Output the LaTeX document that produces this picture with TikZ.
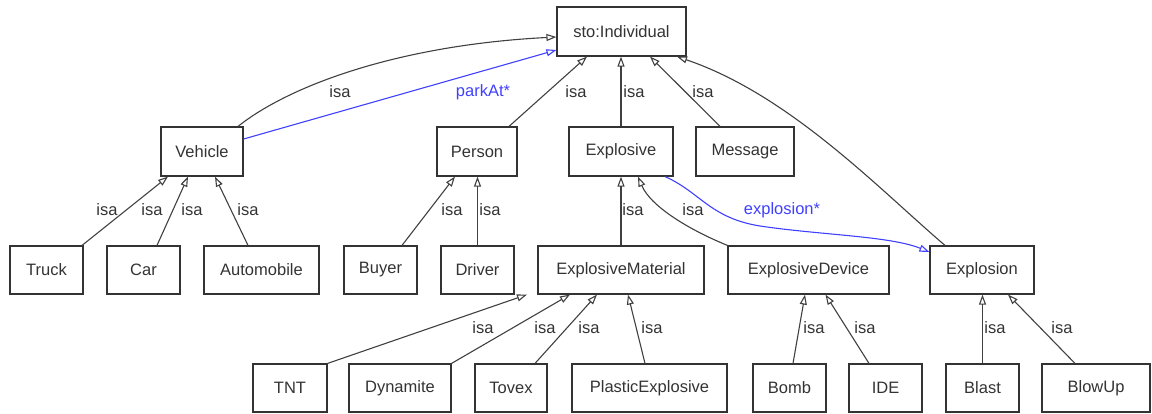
\documentclass[tikz,border=0pt]{standalone}
\usepackage{fontspec}
\setmainfont{Liberation Sans}
\usetikzlibrary{arrows.meta}
\definecolor{ink}{RGB}{51,51,51}
\definecolor{edgecol}{RGB}{64,64,64}
\definecolor{rel}{RGB}{64,64,255}
\begin{document}
\begin{tikzpicture}[x=1pt,y=-1pt,
  cls/.style={draw=ink, line width=1.2pt, minimum height=48pt, inner sep=0pt,
    text=ink, font=\fontsize{16.5}{19}\selectfont},
  lbl/.style={text=ink, inner sep=0pt, font=\fontsize{16.5}{19}\selectfont},
  rlbl/.style={text=rel, inner sep=0pt, font=\fontsize{16.5}{19}\selectfont},
  isa/.style={draw=edgecol, line width=1.1pt,
    -{Triangle[open, length=10pt, width=7pt]}},
  prop/.style={draw=rel, line width=1.1pt,
    -{Triangle[open, length=10pt, width=7pt]}}]
\useasboundingbox (0,0) rectangle (1152,413);

% classes
\node[cls, minimum width=129pt, minimum height=49pt] (indiv) at (621.5,31.5) {sto:Individual};

\node[cls, minimum width=82pt, minimum height=49pt] (veh) at (202,151.5) {Vehicle};
\node[cls, minimum width=80pt, minimum height=49pt] (person) at (477,151.5) {Person};
\node[cls, minimum width=104pt, minimum height=49pt] (explosive) at (621,151.5) {Explosive};
\node[cls, minimum width=98pt, minimum height=49pt] (message) at (745,151.5) {Message};

\node[cls, minimum width=73pt] (truck) at (46.5,270) {Truck};
\node[cls, minimum width=73pt] (car) at (143.5,270) {Car};
\node[cls, minimum width=115pt] (auto) at (261.5,270) {Automobile};
\node[cls, minimum width=73pt] (buyer) at (380.5,270) {Buyer};
\node[cls, minimum width=73pt] (driver) at (477.5,270) {Driver};
\node[cls, minimum width=166pt] (emat) at (621,270) {ExplosiveMaterial};
\node[cls, minimum width=161pt] (edev) at (808.5,270) {ExplosiveDevice};
\node[cls, minimum width=104pt] (explosion) at (982,270) {Explosion};

\node[cls, minimum width=74pt] (tnt) at (290,388) {TNT};
\node[cls, minimum width=102pt] (dyn) at (400,388) {Dynamite};
\node[cls, minimum width=72pt] (tovex) at (511,388) {Tovex};
\node[cls, minimum width=155pt] (plastic) at (649.5,388) {PlasticExplosive};
\node[cls, minimum width=73pt] (bomb) at (789.5,388) {Bomb};
\node[cls, minimum width=73pt] (ide) at (885.5,388) {IDE};
\node[cls, minimum width=73pt] (blast) at (982.5,388) {Blast};
\node[cls, minimum width=108pt] (blowup) at (1096,388) {BlowUp};

% subclass links to sto:Individual
\draw[isa] ([xshift=36pt]veh.north) .. controls (290,85) and (400,45) .. ([yshift=-5.5pt]indiv.west);
\draw[isa] ([xshift=32pt]person.north) -- ([xshift=-34.5pt]indiv.south);
\draw[isa] (explosive.north) -- (explosive.north |- indiv.south);
\draw[isa] ([xshift=-25pt]message.north) -- ([xshift=28.5pt]indiv.south);
\draw[isa] ([xshift=-37pt]explosion.north) .. controls (880,190) and (790,95) .. ([xshift=55.5pt]indiv.south);

% object properties
\draw[prop] ([yshift=12.5pt]veh.east) -- ([yshift=-18.5pt]indiv.west);
\draw[prop] ([xshift=44pt]explosive.south) .. controls (700,192) and (710,218) .. (760,226)
  .. controls (820,235) and (890,236) .. ([yshift=18pt]explosion.west);

% second level
\draw[isa] ([xshift=35.5pt]truck.north) -- ([xshift=-34pt]veh.south);
\draw[isa] ([xshift=13.5pt]car.north) -- ([xshift=-14pt]veh.south);
\draw[isa] ([xshift=-13.5pt]auto.north) -- ([xshift=13pt]veh.south);
\draw[isa] ([xshift=21.5pt]buyer.north) -- ([xshift=-22pt]person.south);
\draw[isa] (driver.north) -- (driver.north |- person.south);
\draw[isa] (emat.north) -- (explosive.south);
\draw[isa] (edev.north west) .. controls (685,228) and (650,205) .. ([xshift=17pt]explosive.south);

% third level
\draw[isa] (tnt.north east) -- ([xshift=-94pt]emat.south);
\draw[isa] (dyn.north east) -- ([xshift=-51pt]emat.south);
\draw[isa] ([xshift=24pt]tovex.north) -- ([xshift=-24pt]emat.south);
\draw[isa] ([xshift=-4.5pt]plastic.north) -- ([xshift=7pt]emat.south);
\draw[isa] ([xshift=3.5pt]bomb.north) -- ([xshift=-3.5pt]edev.south);
\draw[isa] ([xshift=-16.5pt]ide.north) -- ([xshift=17pt]edev.south);
\draw[isa] (blast.north) -- (blast.north |- explosion.south);
\draw[isa] ([xshift=-21pt]blowup.north) -- ([xshift=26pt]explosion.south);

% edge labels
\node[lbl] (l1) at (340,92) {isa};
\node[rlbl] (l2) at (483,92) {parkAt*};
\node[lbl] (l3) at (576,92) {isa};
\node[lbl] (l4) at (634,92) {isa};
\node[lbl] (l5) at (703,92) {isa};

\node[lbl] (l6) at (107,210) {isa};
\node[lbl] (l7) at (152,210) {isa};
\node[lbl] (l8) at (192,210) {isa};
\node[lbl] (l9) at (248,210) {isa};
\node[lbl] (l10) at (452,210) {isa};
\node[lbl] (l11) at (490,210) {isa};
\node[lbl] (l12) at (633,210) {isa};
\node[lbl] (l13) at (693,210) {isa};
\node[rlbl] (l14) at (782,210) {explosion*};

\node[lbl] (l15) at (483,328) {isa};
\node[lbl] (l16) at (545,328) {isa};
\node[lbl] (l17) at (589,328) {isa};
\node[lbl] (l18) at (652,328) {isa};
\node[lbl] (l19) at (814,328) {isa};
\node[lbl] (l20) at (865,328) {isa};
\node[lbl] (l21) at (995,328) {isa};
\node[lbl] (l22) at (1062,328) {isa};
\end{tikzpicture}
\end{document}
